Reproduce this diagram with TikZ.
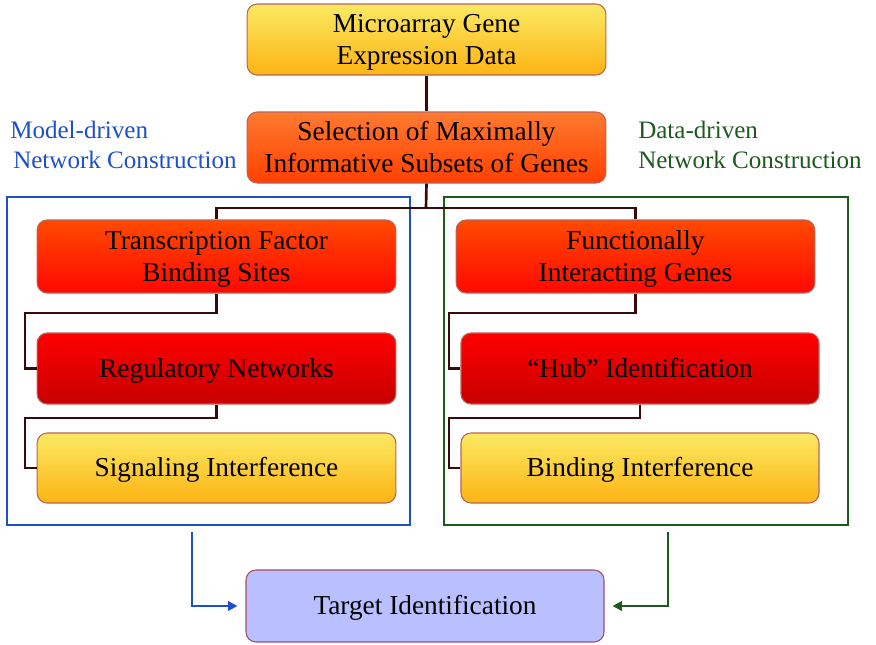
\documentclass[tikz,border=0pt]{standalone}
\usepackage{fontspec}
\setmainfont{Liberation Serif}
\usetikzlibrary{fit,arrows.meta}
\definecolor{connc}{HTML}{3A0A0A}
\definecolor{boxline}{HTML}{B8645A}
\definecolor{bluec}{HTML}{1E50C8}
\definecolor{greenc}{HTML}{1E5A1E}
\definecolor{ylwtop}{HTML}{FBE962}
\definecolor{ylwbot}{HTML}{FDB414}
\definecolor{orgtop}{HTML}{FF7A30}
\definecolor{orgbot}{HTML}{FF4000}
\definecolor{rortop}{HTML}{FF4A00}
\definecolor{rorbot}{HTML}{FF0800}
\definecolor{redtop}{HTML}{FF0000}
\definecolor{redbot}{HTML}{C60000}
\definecolor{lav}{HTML}{B9BFFF}
\definecolor{lavline}{HTML}{A05064}
\tikzset{
  boxbase/.style={rounded corners=7.5pt, draw=boxline, line width=0.8pt, inner sep=0pt,
    align=center, font=\fontsize{20.5}{24}\selectfont,
    minimum width=269pt, minimum height=53.25pt, text height=12.8pt, text depth=0pt},
  twoline/.style={text height=38.2pt, text depth=0pt},
  ylwbox/.style={boxbase, top color=ylwtop, bottom color=ylwbot},
  orgbox/.style={boxbase, top color=orgtop, bottom color=orgbot},
  rorbox/.style={boxbase, top color=rortop, bottom color=rorbot},
  redbox/.style={boxbase, top color=redtop, bottom color=redbot},
  lavbox/.style={boxbase, fill=lav, draw=lavline},
  conn/.style={draw=connc, line width=2pt},
  frame/.style={draw, line width=2pt, inner sep=0pt},
  lbl/.style={anchor=west, inner sep=0pt, font=\fontsize{18.8}{22}\selectfont},
  arr/.style={line width=2pt, -{Triangle[length=7pt,width=7pt]}, shorten >=6pt},
}
\begin{document}
\begin{tikzpicture}[x=0.75pt,y=-0.75pt]
\useasboundingbox (0,0) rectangle (876,644);
% frames
\node[frame, draw=bluec, fit={(7,197) (410,525)}] (model) {};
\node[frame, draw=greenc, fit={(444,197) (848,525)}] (data) {};
% labels
\node[lbl, text=bluec] (ml1) at (10,130) {Model-driven};
\node[lbl, text=bluec] (ml2) at (13,160) {Network Construction};
\node[lbl, text=greenc] (dl1) at (638,130) {Data-driven};
\node[lbl, text=greenc] (dl2) at (638,160) {Network Construction};
% boxes
\node[ylwbox, twoline] (mic) at (426.5,39.5) {Microarray Gene\\Expression Data};
\node[orgbox, twoline] (sel) at (426.5,147.5) {Selection of Maximally\\Informative Subsets of Genes};
\node[rorbox, twoline, minimum height=54.75pt] (tf) at (216.5,256.5) {Transcription Factor\\Binding Sites};
\node[redbox] (reg) at (216.5,368.5) {Regulatory Networks};
\node[ylwbox, minimum height=52.5pt] (sig) at (216.5,468) {Signaling Interference};
\node[rorbox, twoline, minimum height=54.75pt] (fun) at (635.5,256.5) {Functionally\\Interacting Genes};
\node[redbox, minimum width=268.5pt] (hub) at (640,368.5) {``Hub'' Identification};
\node[ylwbox, minimum width=268.5pt, minimum height=52.5pt] (bind) at (640,468) {Binding Interference};
\node[lavbox, minimum width=268.5pt, minimum height=54pt] (tgt) at (425,606) {Target Identification};
% connector coordinates
\coordinate (split) at (426,208);
\coordinate (l1) at (25,313);
\coordinate (l2) at (25,418);
\coordinate (r1) at (449,313);
\coordinate (r2) at (449,418);
\coordinate (bstart) at (192,532);
\coordinate (gstart) at (668,532);
% connectors
\draw[conn] (mic.south) -- (sel.north);
\draw[conn] (sel.south) -- (split);
\draw[conn] (split) -| (tf.north);
\draw[conn] (split) -| (fun.north);
\draw[conn] (tf.south) |- (l1) |- (reg.west);
\draw[conn] (reg.south) |- (l2) |- (sig.west);
\draw[conn] (fun.south) |- (r1) |- (hub.west);
\draw[conn] (hub.south) |- (r2) |- (bind.west);
\draw[arr, draw=bluec] (bstart) |- (tgt.west);
\draw[arr, draw=greenc] (gstart) |- (tgt.east);
\end{tikzpicture}
\end{document}
